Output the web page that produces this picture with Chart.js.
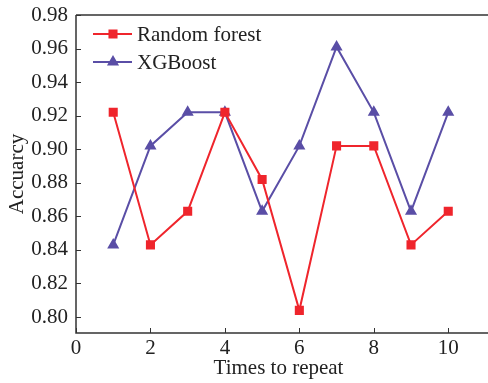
<!DOCTYPE html>
<html>
<head>
<meta charset="utf-8">
<script src="https://cdn.jsdelivr.net/npm/chart.js@4/dist/chart.umd.min.js"></script>
<style>
  html, body { margin: 0; padding: 0; background: #fff; }
  #wrap { width: 488px; height: 383px; }
</style>
</head>
<body>
<div id="wrap"><canvas id="accChart" width="488" height="383"></canvas></div>
<script>
  // accuracy per run for the two models
  const runs = [1, 2, 3, 4, 5, 6, 7, 8, 9, 10];
  const randomForest = [0.922, 0.843, 0.863, 0.922, 0.882, 0.804, 0.902, 0.902, 0.843, 0.863];
  const xgboost = [0.843, 0.902, 0.922, 0.922, 0.863, 0.902, 0.961, 0.922, 0.863, 0.922];
  const xTicks = [0, 2, 4, 6, 8, 10];
  const yTicks = [0.80, 0.82, 0.84, 0.86, 0.88, 0.90, 0.92, 0.94, 0.96, 0.98];

  const RED = '#ef252c';
  const PURPLE = '#5a4ea6';
  const AXIS = '#333';
  const FONT = { family: '"Liberation Serif", "Times New Roman", serif', size: 21 };

  // axis lines, inward tick marks and the top frame line
  const frame = {
    id: 'frame',
    afterDraw(chart) {
      const { ctx, chartArea: a, scales: { x, y } } = chart;
      ctx.save();
      ctx.strokeStyle = AXIS;
      ctx.lineWidth = 1.5;
      ctx.beginPath();
      ctx.moveTo(a.left, a.top);
      ctx.lineTo(chart.width, a.top);
      ctx.moveTo(a.left, a.top);
      ctx.lineTo(a.left, a.bottom);
      ctx.lineTo(chart.width, a.bottom);
      ctx.stroke();
      ctx.lineWidth = 1;
      ctx.beginPath();
      xTicks.forEach(v => {
        const px = Math.round(x.getPixelForValue(v)) + 0.5;
        ctx.moveTo(px, a.bottom);
        ctx.lineTo(px, a.bottom - 5);
      });
      yTicks.forEach(v => {
        const py = Math.round(y.getPixelForValue(v)) + 0.5;
        ctx.moveTo(a.left, py);
        ctx.lineTo(a.left + 5, py);
      });
      ctx.stroke();
      ctx.restore();
    }
  };

  // legend with a short line segment through the marker
  const lineLegend = {
    id: 'lineLegend',
    afterDraw(chart) {
      const { ctx } = chart;
      ctx.save();
      chart.data.datasets.forEach((ds, i) => {
        const yy = 34 + i * 28;
        ctx.strokeStyle = ds.borderColor;
        ctx.lineWidth = 2;
        ctx.beginPath();
        ctx.moveTo(93, yy);
        ctx.lineTo(132, yy);
        ctx.stroke();
        Chart.helpers.drawPoint(ctx, {
          pointStyle: ds.pointStyle,
          radius: ds.pointRadius,
          borderWidth: 1
        }, 113, yy);
        ctx.fillStyle = ds.pointBackgroundColor;
        ctx.fill();
        ctx.fillStyle = '#222';
        ctx.font = FONT.size + 'px ' + FONT.family;
        ctx.textBaseline = 'middle';
        ctx.fillText(ds.label, 137, yy + 1);
      });
      ctx.restore();
    }
  };

  new Chart(document.getElementById('accChart'), {
    type: 'line',
    data: {
      labels: runs,
      datasets: [
        {
          label: 'Random forest',
          data: runs.map((r, i) => ({ x: r, y: randomForest[i] })),
          borderColor: RED,
          backgroundColor: RED,
          pointBackgroundColor: RED,
          pointBorderColor: RED,
          pointStyle: 'rect',
          pointRadius: 5,
          borderWidth: 2,
          tension: 0
        },
        {
          label: 'XGBoost',
          data: runs.map((r, i) => ({ x: r, y: xgboost[i] })),
          borderColor: PURPLE,
          backgroundColor: PURPLE,
          pointBackgroundColor: PURPLE,
          pointBorderColor: PURPLE,
          pointStyle: 'triangle',
          pointRadius: 5,
          borderWidth: 2,
          tension: 0
        }
      ]
    },
    options: {
      responsive: false,
      animation: false,
      events: [],
      layout: { padding: { left: 0, top: 15, right: 0, bottom: 0 } },
      plugins: {
        legend: { display: false },
        tooltip: { enabled: false }
      },
      scales: {
        x: {
          type: 'linear',
          min: 0,
          max: 10.88,
          border: { display: false },
          grid: { display: false, drawTicks: false },
          afterBuildTicks: s => { s.ticks = xTicks.map(v => ({ value: v })); },
          afterFit: s => { s.height = 50; s.paddingLeft = 0; s.paddingRight = 0; },
          ticks: { color: '#222', font: FONT, padding: 3, maxRotation: 0, autoSkip: false },
          title: { display: true, text: 'Times to repeat', color: '#222', font: FONT, padding: { top: 0, bottom: 2 } }
        },
        y: {
          min: 0.7905,
          max: 0.98,
          border: { display: false },
          grid: { display: false, drawTicks: false },
          afterBuildTicks: s => { s.ticks = yTicks.map(v => ({ value: v })); },
          afterFit: s => { s.width = 76; s.paddingTop = 0; s.paddingBottom = 0; },
          ticks: { color: '#222', font: FONT, padding: 8, callback: v => v.toFixed(2) },
          title: { display: true, text: 'Accuarcy', color: '#222', font: FONT, padding: { top: 5, bottom: 0 } }
        }
      }
    },
    plugins: [frame, lineLegend]
  });
</script>
</body>
</html>
